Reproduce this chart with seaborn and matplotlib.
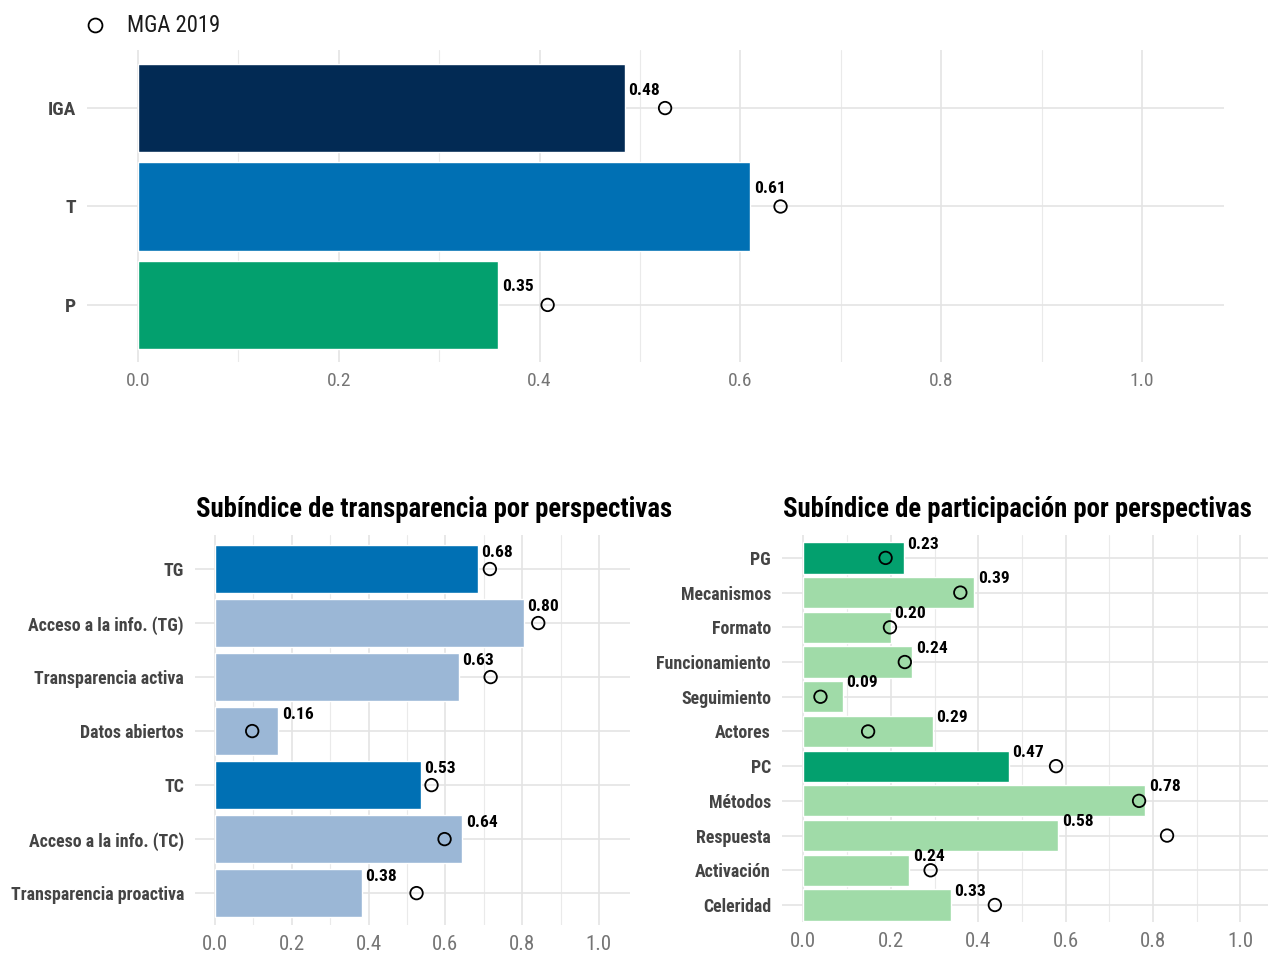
import seaborn as sns
import matplotlib.pyplot as plt
from matplotlib import font_manager
from matplotlib.lines import Line2D
from matplotlib.ticker import MultipleLocator

# Top panel: global index and its two subindices
top_cats = ["IGA", "T", "P"]
top_vals = [0.485, 0.61, 0.359]
top_mga = [0.525, 0.64, 0.408]
top_labels = ["0.48", "0.61", "0.35"]
top_colors = ["#022a54", "#0070b4", "#03a06e"]

# Transparency subindex by perspective
trans_cats = ["TG", "Acceso a la info. (TG)", "Transparencia activa", "Datos abiertos",
              "TC", "Acceso a la info. (TC)", "Transparencia proactiva"]
trans_vals = [0.684, 0.805, 0.635, 0.165, 0.537, 0.644, 0.383]
trans_mga = [0.716, 0.842, 0.718, 0.097, 0.564, 0.598, 0.525]
trans_labels = ["0.68", "0.80", "0.63", "0.16", "0.53", "0.64", "0.38"]
trans_colors = ["#0070b4", "#9bb7d6", "#9bb7d6", "#9bb7d6", "#0070b4", "#9bb7d6", "#9bb7d6"]

# Participation subindex by perspective
part_cats = ["PG", "Mecanismos", "Formato", "Funcionamiento", "Seguimiento", "Actores",
             "PC", "Métodos", "Respuesta", "Activación", "Celeridad"]
part_vals = [0.229, 0.391, 0.200, 0.249, 0.090, 0.296, 0.470, 0.782, 0.583, 0.242, 0.338]
part_mga = [0.188, 0.359, 0.198, 0.232, 0.039, 0.148, 0.578, 0.768, 0.832, 0.291, 0.438]
part_labels = ["0.23", "0.39", "0.20", "0.24", "0.09", "0.29", "0.47", "0.78", "0.58", "0.24", "0.33"]
part_colors = ["#03a06e", "#a0dba8", "#a0dba8", "#a0dba8", "#a0dba8", "#a0dba8",
               "#03a06e", "#a0dba8", "#a0dba8", "#a0dba8", "#a0dba8"]

sns.set_style("white")
avail = {f.name for f in font_manager.fontManager.ttflist}
cond = "DejaVu Sans"
for cand in ["Roboto Condensed", "Liberation Sans Narrow", "DejaVu Sans"]:
    if cand in avail:
        cond = cand
        break
plt.rcParams["font.family"] = [cond, "DejaVu Sans"]

W, H = 1268, 955
fig = plt.figure(figsize=(W / 100, H / 100), dpi=100)


def px_axes(left, top, right, bottom):
    return fig.add_axes([left / W, 1 - bottom / H, (right - left) / W, (bottom - top) / H])


def panel(ax, cats, vals, mga, labels, colors, xlim, ylim, label_dy, ysize, xsize):
    sns.barplot(x=vals, y=cats, hue=cats, palette=colors, orient="h", width=0.9,
                saturation=1, legend=False, ax=ax, zorder=2)
    sns.stripplot(x=mga, y=cats, jitter=False, size=9, linewidth=1.3, color="black",
                  edgecolor="black", ax=ax, zorder=3)
    for coll in ax.collections:
        coll.set_facecolor("none")
    for i, (v, lab) in enumerate(zip(vals, labels)):
        ax.annotate(lab, (v, i), xytext=(2.5, label_dy), textcoords="offset points",
                    ha="left", va="center", fontsize=12.5, fontweight="bold", color="black",
                    zorder=4)
    ax.set_xlim(*xlim)
    ax.set_ylim(*ylim)
    ax.xaxis.set_major_locator(MultipleLocator(0.2))
    ax.xaxis.set_minor_locator(MultipleLocator(0.1))
    ax.set_xticks([0, 0.2, 0.4, 0.6, 0.8, 1.0])
    ax.set_xticklabels(["0.0", "0.2", "0.4", "0.6", "0.8", "1.0"])
    ax.grid(True, which="major", axis="both", color="#e4e4e4", lw=1.2, zorder=0)
    ax.grid(True, which="minor", axis="x", color="#eaeaea", lw=0.8, zorder=0)
    ax.set_axisbelow(True)
    ax.tick_params(axis="x", which="both", length=0, pad=7, labelsize=xsize, labelcolor="#757575")
    ax.tick_params(axis="y", length=0, pad=8, labelsize=ysize, labelcolor="#444444")
    for t in ax.get_yticklabels():
        t.set_fontweight("bold")
    ax.set_xlabel("")
    ax.set_ylabel("")
    sns.despine(ax=ax, left=True, bottom=True)


ax_top = px_axes(87, 50, 1224, 362)
panel(ax_top, top_cats, top_vals, top_mga, top_labels, top_colors,
      (-0.0508, 1.0817), (2.58, -0.59), 13, 14, 14)

ax_t = px_axes(195, 535, 630, 925)
panel(ax_t, trans_cats, trans_vals, trans_mga, trans_labels, trans_colors,
      (-0.052, 1.081), (6.59, -0.63), 12, 12.9, 15)
ax_t.set_title("Subíndice de transparencia por perspectivas", fontsize=19.3,
               fontweight="bold", color="black", pad=13, x=0.55)

ax_p = px_axes(782, 535, 1268, 922)
panel(ax_p, part_cats, part_vals, part_mga, part_labels, part_colors,
      (-0.049, 1.063), (10.49, -0.66), 10, 12.9, 15)
ax_p.set_title("Subíndice de participación por perspectivas", fontsize=19.3,
               fontweight="bold", color="black", pad=13, x=0.485)

handle = Line2D([], [], marker="o", ls="none", mfc="none", mec="black", ms=10, mew=1.3)
fig.legend(handles=[handle], labels=["MGA 2019"], loc="center left",
           bbox_to_anchor=(81 / W, 1 - 26 / H), frameon=False, fontsize=16.3,
           handlelength=1.2, handletextpad=0.85, borderpad=0, borderaxespad=0,
           labelcolor="#1a1a1a")

fig.savefig("out.png", dpi=100)
